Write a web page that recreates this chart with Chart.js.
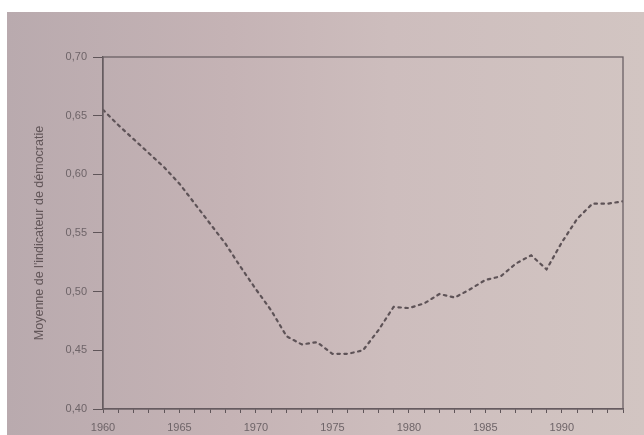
<!DOCTYPE html>
<html>
<head>
<meta charset="utf-8">
<script src="https://cdn.jsdelivr.net/npm/chart.js@4.4.1/dist/chart.umd.min.js"></script>
<style>
  html, body { margin: 0; padding: 0; background: #ffffff; }
  #paper {
    position: absolute; left: 7px; top: 12px; width: 637px; height: 423px;
    background: linear-gradient(90deg, #b9aaae 0%, #c5b3b5 35%, #cdbdbd 60%, #d2c5c2 100%);
  }
  #wrap { position: absolute; left: 0; top: 0; width: 644px; height: 435px; }
</style>
</head>
<body>
<div id="paper"></div>
<div id="wrap"><canvas id="chart" width="644" height="435"></canvas></div>
<script>
        const years = [1960, 1961, 1962, 1963, 1964, 1965, 1966, 1967, 1968, 1969,
                       1970, 1971, 1972, 1973, 1974, 1975, 1976, 1977, 1978, 1979,
                       1980, 1981, 1982, 1983, 1984, 1985, 1986, 1987, 1988, 1989,
                       1990, 1991, 1992, 1993, 1994];
        const democracyMean = [0.655, 0.642, 0.630, 0.618, 0.606, 0.592, 0.575, 0.558, 0.541, 0.521,
                               0.502, 0.484, 0.462, 0.455, 0.457, 0.447, 0.447, 0.450, 0.467, 0.487,
                               0.486, 0.490, 0.498, 0.495, 0.502, 0.510, 0.513, 0.524, 0.531, 0.519,
                               0.542, 0.562, 0.575, 0.575, 0.577];
        const yTicks = [0.40, 0.45, 0.50, 0.55, 0.60, 0.65, 0.70];
        const xLabelYears = [1960, 1965, 1970, 1975, 1980, 1985, 1990];
        const yTitle = "Moyenne de l'indicateur de démocratie";

        const inkColor = '#5f5559';
        const textColor = '#6e6468';

        // box around the plot area
        const frame = {
            id: 'frame',
            afterDraw(chart) {
                const a = chart.chartArea;
                const ctx = chart.ctx;
                ctx.save();
                ctx.strokeStyle = '#6a6064';
                ctx.lineWidth = 1.3;
                ctx.strokeRect(a.left, a.top, a.right - a.left, a.bottom - a.top);
                ctx.restore();
            }
        };

        function initChart() {
            const ctx = document.getElementById('chart').getContext('2d');
            new Chart(ctx, {
                type: 'line',
                data: {
                    labels: years,
                    datasets: [{
                        data: years.map((y, i) => ({ x: y, y: democracyMean[i] })),
                        borderColor: '#5e5357',
                        borderWidth: 2.2,
                        borderDash: [2.5, 4.5],
                        borderCapStyle: 'round',
                        pointRadius: 0,
                        tension: 0,
                        fill: false
                    }]
                },
                options: {
                    responsive: false,
                    animation: false,
                    layout: { padding: { left: 0, top: 57, right: 21, bottom: 0 } },
                    plugins: { legend: { display: false }, tooltip: { enabled: false } },
                    scales: {
                        x: {
                            type: 'linear',
                            min: 1960,
                            max: 1994,
                            afterFit(scale) { scale.height = 26; },
                            border: { color: inkColor, width: 1.3 },
                            grid: {
                                drawOnChartArea: false,
                                tickLength: 4,
                                color: inkColor
                            },
                            ticks: {
                                stepSize: 1,
                                autoSkip: false,
                                maxRotation: 0,
                                padding: 8,
                                color: textColor,
                                font: { family: 'Liberation Sans', size: 11 },
                                callback: v => xLabelYears.includes(v) ? String(v) : ''
                            }
                        },
                        y: {
                            min: 0.40,
                            max: 0.70,
                            afterFit(scale) { scale.width = 103; },
                            afterBuildTicks(scale) { scale.ticks = yTicks.map(v => ({ value: v })); },
                            border: { color: inkColor, width: 1.3 },
                            grid: {
                                drawOnChartArea: false,
                                tickLength: 10,
                                color: inkColor
                            },
                            ticks: {
                                padding: 6,
                                color: textColor,
                                font: { family: 'Liberation Sans', size: 11 },
                                callback: v => v.toFixed(2).replace('.', ',')
                            },
                            title: {
                                display: true,
                                text: yTitle,
                                color: '#625659',
                                font: { family: 'Liberation Sans', size: 12.5 },
                                padding: { top: 32, bottom: 0 }
                            }
                        }
                    }
                },
                plugins: [frame]
            });
        }

        document.addEventListener('DOMContentLoaded', initChart);
</script>
</body>
</html>
